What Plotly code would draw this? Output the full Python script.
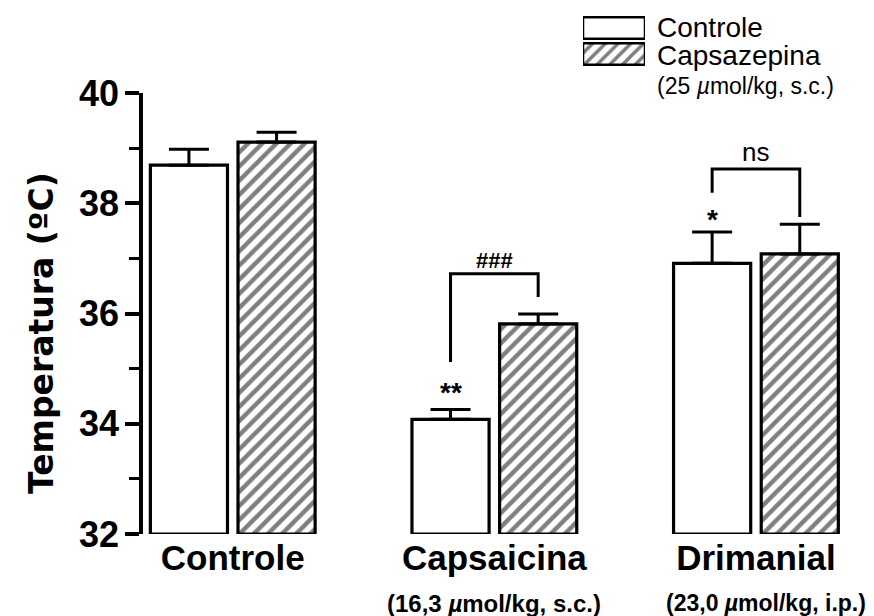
import plotly.graph_objects as go

# ---------------- data ----------------
categories = ["Controle", "Capsaicina", "Drimanial"]
dose_labels = ["", "(16,3 <i>µ</i>mol/kg, s.c.)", "(23,0 <i>µ</i>mol/kg, i.p.)"]
controle_vals = [38.69, 34.08, 36.91]
controle_err = [0.29, 0.18, 0.57]
capsazepina_vals = [39.11, 35.81, 37.08]
capsazepina_err = [0.18, 0.18, 0.54]
y_ticks = [32, 34, 36, 38, 40]

# significance brackets: [left leg bottom, top, right leg bottom] for groups 1 and 2
bracket_groups = [1, 2]
bracket_left = [35.12, 38.19]
bracket_top = [36.72, 38.62]
bracket_right = [36.30, 37.75]
bracket_text = ["###", "ns"]
bracket_text_y = [36.97, 38.93]
star_groups = [1, 2]
star_text = ["**", "*"]
star_y = [34.66, 37.79]

# ---------------- layout geometry ----------------
W, H = 874, 616
OFF = 8  # page body margin of the html page
BASE = 32
FONT = "Liberation Sans"
bargap, bargroupgap = 0.33, 0.12
half_slot = (1 - bargap) / 4  # centre offset of each bar in a group


def px_x(p):
    return (p - OFF) / W


def px_y(p):
    return 1 - (p - OFF) / H


L_px, R_px, T_px, B_px = 143, 860, 93, 534
x0_px, unit_px = 232.75, 261.6
x_range = [-(x0_px - L_px) / unit_px, (R_px - x0_px) / unit_px]

HATCH = dict(shape="/", fgcolor="black", bgcolor="white", size=10, solidity=0.45)

fig = go.Figure()

xs = list(range(len(categories)))
fig.add_trace(go.Bar(
    x=xs, y=[v - BASE for v in controle_vals], base=BASE,
    marker=dict(color="white", line=dict(color="black", width=3.2)),
    error_y=dict(type="data", array=controle_err, arrayminus=[0] * 3, symmetric=False,
                 color="black", thickness=3, width=20),
    cliponaxis=False, showlegend=False, name="Controle"))
fig.add_trace(go.Bar(
    x=xs, y=[v - BASE for v in capsazepina_vals], base=BASE,
    marker=dict(color="white", line=dict(color="black", width=3.2), pattern=HATCH),
    error_y=dict(type="data", array=capsazepina_err, arrayminus=[0] * 3, symmetric=False,
                 color="black", thickness=3, width=20),
    cliponaxis=False, showlegend=False, name="Capsazepina"))

# brackets
for g, yl, yt, yr in zip(bracket_groups, bracket_left, bracket_top, bracket_right):
    fig.add_trace(go.Scatter(
        x=[g - half_slot, g - half_slot, g + half_slot, g + half_slot],
        y=[yl, yt, yt, yr], mode="lines", line=dict(color="black", width=3),
        cliponaxis=False, showlegend=False, hoverinfo="skip"))

annotations = []
for g, t, yv in zip(bracket_groups, bracket_text, bracket_text_y):
    is_ns = t == "ns"
    annotations.append(dict(x=g, y=yv, xref="x", yref="y", text=t, showarrow=False,
                            font=dict(family=FONT, size=26 if is_ns else 22, color="black",
                                      weight="normal" if is_ns else "bold"),
                            yanchor="middle"))
for g, t, yv in zip(star_groups, star_text, star_y):
    annotations.append(dict(x=g - half_slot, y=yv, xref="x", yref="y", text=t, showarrow=False,
                            font=dict(family=FONT, size=28, color="black", weight="bold"),
                            yanchor="middle", yshift=-5))
# dose text under categories
for i, d in enumerate(dose_labels):
    if d:
        annotations.append(dict(x=i, y=px_y(603), xref="x", yref="paper", text=d,
                                showarrow=False, xshift=(10 if i == 2 else 0),
                                font=dict(family=FONT, size=24 if i == 1 else 23,
                                          color="black", weight="bold"),
                                yanchor="middle"))
# y title
annotations.append(dict(x=px_x(41), y=px_y(333), xref="paper", yref="paper",
                        text="Temperatura (ºC)", textangle=-90, showarrow=False,
                        font=dict(family="DejaVu Sans", size=33, color="black", weight="bold"),
                        xanchor="center", yanchor="middle"))

# custom legend (boxes drawn on an auxiliary axis)
legend_names = ["Controle", "Capsazepina"]
fig.add_trace(go.Bar(
    x=[1, 1], y=[0, 1], orientation="h", xaxis="x2", yaxis="y2", width=0.82,
    marker=dict(color="white", line=dict(color="black", width=2.5),
                pattern=dict(shape=["", "/"], fgcolor="black", bgcolor="white", size=9, solidity=0.4)),
    cliponaxis=False, showlegend=False, hoverinfo="skip"))
legend_y_px = [28, 55]
for name, ypx in zip(legend_names, legend_y_px):
    annotations.append(dict(x=px_x(655), y=px_y(ypx), xref="paper", yref="paper", text=name,
                            showarrow=False, xanchor="left", yanchor="middle",
                            font=dict(family=FONT, size=28, color="black")))
annotations.append(dict(x=px_x(655), y=px_y(86), xref="paper", yref="paper",
                        text="(25 <i>µ</i>mol/kg, s.c.)", showarrow=False,
                        xanchor="left", yanchor="middle",
                        font=dict(family=FONT, size=23, color="black")))

fig.update_layout(
    width=W, height=H, margin=dict(l=0, r=0, t=0, b=0, autoexpand=False),
    paper_bgcolor="white", plot_bgcolor="white",
    barmode="group", bargap=bargap, bargroupgap=bargroupgap,
    annotations=annotations,
    xaxis=dict(domain=[px_x(L_px), px_x(R_px)], range=x_range, tickmode="array", tickvals=xs,
               ticktext=categories, showline=False, showgrid=False, zeroline=False,
               ticks="", automargin=False,
               tickfont=dict(family=FONT, size=35, color="black", weight="bold")),
    yaxis=dict(domain=[px_y(B_px), px_y(T_px)], range=[32, 40], tickmode="array",
               tickvals=y_ticks, showline=True, linecolor="black", linewidth=3.5,
               ticks="outside", ticklen=14, tickwidth=3.5, tickcolor="black",
               ticklabelstandoff=-1,
               showgrid=False, zeroline=False, automargin=False,
               minor=dict(tickmode="linear", tick0=33, dtick=2, ticks="outside", ticklen=10,
                          tickwidth=3, tickcolor="black", showgrid=False),
               tickfont=dict(family=FONT, size=36, color="black", weight="bold")),
    xaxis2=dict(domain=[px_x(583), px_x(645)], range=[0, 1], visible=False, anchor="y2"),
    yaxis2=dict(domain=[px_y(67), px_y(15)], range=[1.5, -0.5], visible=False, anchor="x2"),
)

fig.write_html("out.html")
